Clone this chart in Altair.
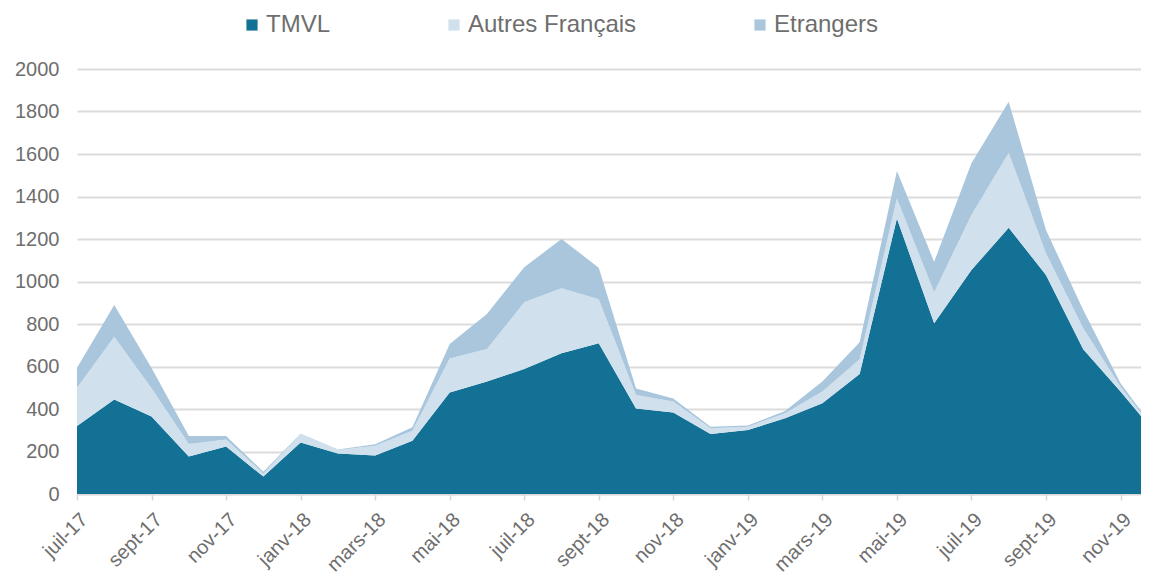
import altair as alt
import pandas as pd

months = ["juil-17", "août-17", "sept-17", "oct-17", "nov-17", "déc-17",
          "janv-18", "févr-18", "mars-18", "avr-18", "mai-18", "juin-18",
          "juil-18", "août-18", "sept-18", "oct-18", "nov-18", "déc-18",
          "janv-19", "févr-19", "mars-19", "avr-19", "mai-19", "juin-19",
          "juil-19", "août-19", "sept-19", "oct-19", "nov-19", "déc-19"]
tmvl = [320, 445, 365, 176, 223, 82, 242, 191, 181, 251, 478, 529, 588, 662, 709,
        402, 384, 282, 301, 356, 427, 565, 1297, 803, 1054, 1253, 1031, 681, 482, 273]
autres = [180, 295, 133, 59, 34, 15, 39, 16, 46, 47, 160, 153, 314, 306, 207,
          64, 51, 27, 16, 24, 55, 69, 94, 146, 259, 353, 102, 99, 23, 6]
etrangers = [94, 150, 95, 38, 16, 8, 3, 3, 7, 16, 68, 165, 165, 232, 149,
             30, 15, 8, 5, 11, 47, 80, 129, 144, 243, 240, 109, 86, 16, 4]
series = ["TMVL", "Autres Français", "Etrangers"]
colors = ["#137196", "#d0e0ec", "#a9c6dd"]
y_ticks = list(range(0, 2001, 200))
x_tick_idx = list(range(0, 29, 2))

rows = []
for k, (name, vals) in enumerate(zip(series, [tmvl, autres, etrangers])):
    for i, v in enumerate(vals):
        rows.append({"idx": i, "month": months[i], "series": name, "value": v, "ord": k})
df = pd.DataFrame(rows)

label_expr = "[" + ",".join("'" + m + "'" for m in months) + "][datum.value]"
gray = "#6e6e6e"
font = "Liberation Sans"

chart = alt.Chart(df).mark_area(clip=True, interpolate="linear").encode(
    x=alt.X("idx:Q",
            scale=alt.Scale(domain=[0, 28.55], nice=False, zero=False),
            axis=alt.Axis(values=x_tick_idx, labelExpr=label_expr, labelAngle=-45,
                          labelAlign="right", labelBaseline="top", labelFontSize=20,
                          labelColor=gray, labelFont=font, grid=False,
                          tickColor="#d6d6d6", tickSize=6, tickWidth=1.5,
                          domainColor="#d9d9d9", domainWidth=1.5,
                          labelPadding=9, title=None, labelOverlap=False)),
    y=alt.Y("value:Q", stack="zero",
            scale=alt.Scale(domain=[0, 2000], nice=False),
            axis=alt.Axis(values=y_ticks, format="d", labelFontSize=20,
                          labelColor=gray, labelFont=font, ticks=False,
                          domain=False, gridColor="#dcdcdc", gridWidth=2,
                          labelPadding=18, title=None)),
    color=alt.Color("series:N",
                    scale=alt.Scale(domain=series, range=colors),
                    legend=alt.Legend(orient="none", legendX=163, legendY=-56,
                                      direction="horizontal", title=None,
                                      symbolType="square", symbolSize=125,
                                      symbolStrokeWidth=0, labelFontSize=24,
                                      labelFont=font, labelColor=gray,
                                      labelLimit=0, labelOffset=2,
                                      columnPadding=111)),
    order=alt.Order("ord:Q", sort="ascending"),
).properties(
    width=1064, height=425,
    padding={"left": 6, "top": 5, "right": 0, "bottom": 0},
).configure_view(stroke=None)

chart.save("out.html", embed_options={"renderer": "svg", "actions": False})
